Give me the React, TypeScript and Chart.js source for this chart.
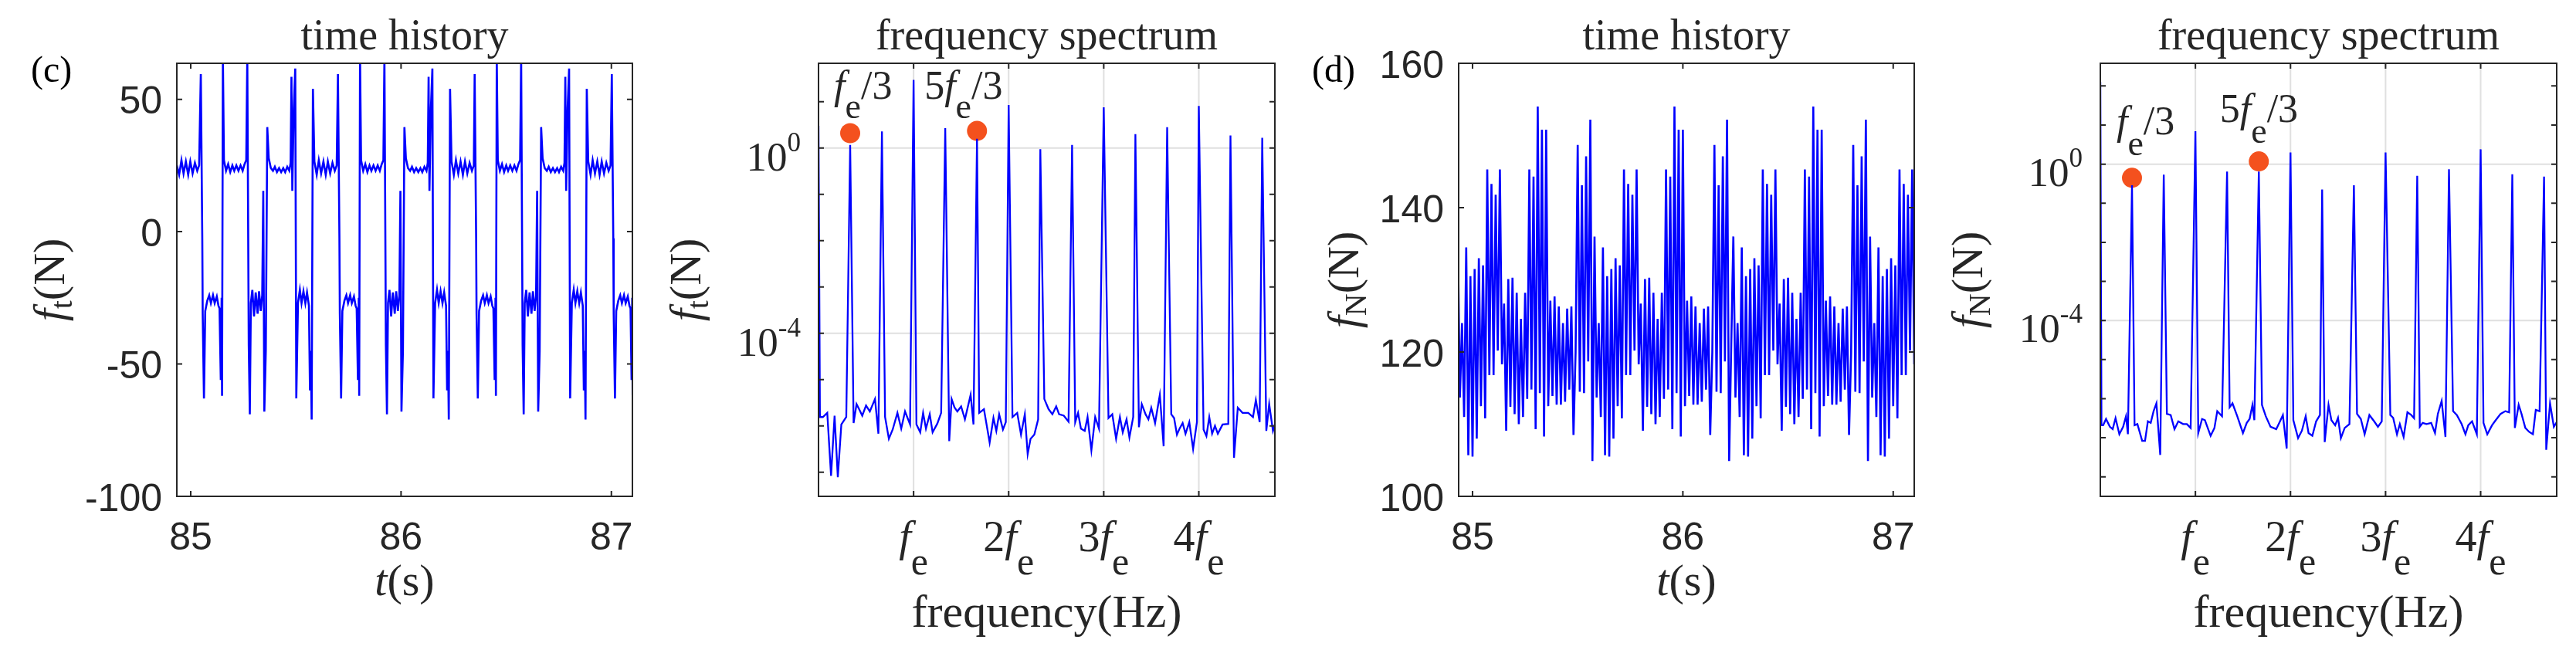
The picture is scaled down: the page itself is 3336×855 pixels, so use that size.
import React, { useEffect, useRef } from 'react';
import { Chart, registerables } from 'chart.js';

Chart.register(...registerables);

const W = 3336;
const H = 855;
const SANS = '"Liberation Sans", Arial, Helvetica, sans-serif';
const SERIF = '"Liberation Serif", "Times New Roman", Times, serif';
const INK = '#262626';
const GRID = '#e0e0e0';
const BLUE = '#0000ff';
const DOT = '#f4511e';

// ---------- (c) tangential force, time history ----------
const timeC = [
  84.934, 84.945, 84.956, 84.966, 84.977, 84.988, 84.998, 85.009, 85.020, 85.031, 85.040,
  85.048, 85.055, 85.057, 85.063, 85.069, 85.079, 85.088, 85.096, 85.106, 85.114,
  85.124, 85.132, 85.137, 85.143, 85.147, 85.149, 85.153, 85.158, 85.168, 85.178,
  85.188, 85.198, 85.207, 85.217, 85.227, 85.237, 85.247, 85.256, 85.264, 85.269,
  85.276, 85.281, 85.286, 85.293, 85.301, 85.309, 85.318, 85.325, 85.333, 85.340,
  85.345, 85.350, 85.357, 85.364, 85.371, 85.381, 85.391, 85.400, 85.410, 85.420,
  85.430, 85.440, 85.449, 85.459, 85.469, 85.475, 85.479, 85.483, 85.490, 85.497,
  85.502, 85.510, 85.519, 85.527, 85.536, 85.545, 85.553, 85.562, 85.567, 85.571,
  85.575, 85.581, 85.588, 85.599, 85.609, 85.620, 85.631, 85.642, 85.652, 85.663,
  85.674, 85.685, 85.694,
  85.700, 85.707, 85.709, 85.715, 85.721, 85.731, 85.740, 85.748, 85.758, 85.766,
  85.776, 85.784, 85.789, 85.795, 85.799, 85.801, 85.805, 85.810, 85.820, 85.830,
  85.840, 85.850, 85.859, 85.869, 85.879, 85.889, 85.899, 85.908, 85.916, 85.921,
  85.928, 85.933, 85.938, 85.945, 85.953, 85.961, 85.970, 85.977, 85.985, 85.992,
  85.997, 86.002, 86.009, 86.016, 86.023, 86.033, 86.043, 86.052, 86.062, 86.072,
  86.082, 86.092, 86.101, 86.111, 86.121, 86.127, 86.131, 86.135, 86.142, 86.149,
  86.154, 86.162, 86.171, 86.179, 86.188, 86.197, 86.205, 86.214, 86.219, 86.223,
  86.227, 86.233, 86.240, 86.251, 86.261, 86.272, 86.283, 86.294, 86.304, 86.315,
  86.326, 86.337, 86.346,
  86.350, 86.357, 86.359, 86.365, 86.371, 86.381, 86.390, 86.398, 86.408, 86.416,
  86.426, 86.434, 86.439, 86.445, 86.449, 86.451, 86.455, 86.460, 86.470, 86.480,
  86.490, 86.500, 86.509, 86.519, 86.529, 86.539, 86.549, 86.558, 86.566, 86.571,
  86.578, 86.583, 86.588, 86.595, 86.603, 86.611, 86.620, 86.627, 86.635, 86.642,
  86.647, 86.652, 86.659, 86.666, 86.673, 86.683, 86.693, 86.702, 86.712, 86.722,
  86.732, 86.742, 86.751, 86.761, 86.771, 86.777, 86.781, 86.785, 86.792, 86.799,
  86.804, 86.812, 86.821, 86.829, 86.838, 86.847, 86.855, 86.864, 86.869, 86.873,
  86.877, 86.883, 86.890, 86.901, 86.911, 86.922, 86.933, 86.944, 86.954, 86.965,
  86.976, 86.987, 86.996,
  87.002, 87.009, 87.011, 87.017, 87.023, 87.033, 87.042, 87.050, 87.060, 87.068,
  87.078, 87.086, 87.091, 87.096, 87.099, 87.101, 87.104, 87.109,
];
const forceC = [
  25, 21.5, 27, 22, 26.5, 21.5, 26.5, 22, 26, 23, 25,
  59.5, -2.5, -31, -63, -30, -26, -24, -27, -24, -27,
  -24.5, -28, -29, -56, -25, -62, 66, 27, 23, 25.5,
  22.5, 25, 23, 25, 23, 25, 23, 25.5, 27, 66,
  -43, -69, -27, -22, -32, -23, -31, -22.5, -30, -24,
  15.4, -68, -45, 39.5, 27.7, 24, 23, 24.5, 22.5, 24,
  22.5, 24, 22.5, 24.5, 23, 26, 58.5, 15.4, 46.7, 61.6,
  -63, -27, -22, -27, -22.5, -27, -23, -28, -60, -45,
  -71, 54, 26.5, 21.5, 27, 22, 26.5, 21.5, 26.5, 22,
  26, 23, 25,
  59.5, -2.5, -31, -63, -30, -26, -24, -27, -24, -27,
  -24.5, -28, -29, -56, -25, -62, 66, 27, 23, 25.5,
  22.5, 25, 23, 25, 23, 25, 23, 25.5, 27, 66,
  -43, -69, -27, -22, -32, -23, -31, -22.5, -30, -24,
  15.4, -68, -45, 39.5, 27.7, 24, 23, 24.5, 22.5, 24,
  22.5, 24, 22.5, 24.5, 23, 26, 58.5, 15.4, 46.7, 61.6,
  -63, -27, -22, -27, -22.5, -27, -23, -28, -60, -45,
  -71, 54, 26.5, 21.5, 27, 22, 26.5, 21.5, 26.5, 22,
  26, 23, 25,
  59.5, -2.5, -31, -63, -30, -26, -24, -27, -24, -27,
  -24.5, -28, -29, -56, -25, -62, 66, 27, 23, 25.5,
  22.5, 25, 23, 25, 23, 25, 23, 25.5, 27, 66,
  -43, -69, -27, -22, -32, -23, -31, -22.5, -30, -24,
  15.4, -68, -45, 39.5, 27.7, 24, 23, 24.5, 22.5, 24,
  22.5, 24, 22.5, 24.5, 23, 26, 58.5, 15.4, 46.7, 61.6,
  -63, -27, -22, -27, -22.5, -27, -23, -28, -60, -45,
  -71, 54, 26.5, 21.5, 27, 22, 26.5, 21.5, 26.5, 22,
  26, 23, 25,
  59.5, -2.5, -31, -63, -30, -26, -24, -27, -24, -27,
  -24.5, -28, -29, -56, -25, -62, 66, 27,
];
const yTicksC = [-100, -50, 0, 50];

// ---------- (d) normal force, time history (sampled every 0.01 s) ----------
const tStartD = 84.93;
const dtD = 0.01;
const forceD = [
  136, 113.7, 124, 111, 134.5, 105.7, 130.5, 105.5, 131.5, 108,
  133, 112.5, 132, 110.8, 145.3, 116.8, 143.3, 116.8, 141.8, 120.2,
  145.3, 118.3, 126.7, 109.1, 130.1, 112.4, 130.3, 111.4, 128.2, 110,
  124.6, 111, 128.2, 113.5, 145.3, 114.8, 144.3, 109.3, 154, 114.3,
  150.8, 108.3, 150.8, 112.5, 127.1, 113.9, 127.7, 112.7, 126.3, 112.7,
  124, 113.1, 126, 114.8, 126.3, 108.5, 120, 148.7, 114.5, 143.1,
  114.3, 147.1, 118.7, 152.2, 104.9,
  136, 113.7, 124, 111, 134.5, 105.7, 130.5, 105.5, 131.5, 108,
  133, 112.5, 132, 110.8, 145.3, 116.8, 143.3, 116.8, 141.8, 120.2,
  145.3, 118.3, 126.7, 109.1, 130.1, 112.4, 130.3, 111.4, 128.2, 110,
  124.6, 111, 128.2, 113.5, 145.3, 114.8, 144.3, 109.3, 154, 114.3,
  150.8, 108.3, 150.8, 112.5, 127.1, 113.9, 127.7, 112.7, 126.3, 112.7,
  124, 113.1, 126, 114.8, 126.3, 108.5, 120, 148.7, 114.5, 143.1,
  114.3, 147.1, 118.7, 152.2, 104.9, 121,
  136, 113.7, 124, 111, 134.5, 105.7, 130.5, 105.5, 131.5, 108,
  133, 112.5, 132, 110.8, 145.3, 116.8, 143.3, 116.8, 141.8, 120.2,
  145.3, 118.3, 126.7, 109.1, 130.1, 112.4, 130.3, 111.4, 128.2, 110,
  124.6, 111, 128.2, 113.5, 145.3, 114.8, 144.3, 109.3, 154, 114.3,
  150.8, 108.3, 150.8, 112.5, 127.1, 113.9, 127.7, 112.7, 126.3, 112.7,
  124, 113.1, 126, 114.8, 126.3, 108.5, 120, 148.7, 114.5, 143.1,
  114.3, 147.1, 118.7, 152.2, 104.9,
  136, 113.7, 124, 111, 134.5, 105.7, 130.5, 105.5, 131.5, 108,
  133, 112.5, 132, 110.8, 145.3, 116.8, 143.3, 116.8, 141.8, 120.2,
  145.3, 118.3,
];
const yTicksD = [100, 120, 140, 160];
const timeTicks = [85, 86, 87];

// ---------- spectra (frequency in multiples of fe, amplitude as log10) ----------
const freqT = [
  0, 0.015, 0.046, 0.092, 0.132, 0.169, 0.203, 0.24, 0.292, 0.333,
  0.369, 0.4, 0.43, 0.46, 0.5, 0.54, 0.594, 0.63, 0.667, 0.7,
  0.74, 0.78, 0.83, 0.87, 0.91, 0.963, 1.0, 1.03, 1.07, 1.1,
  1.13, 1.17, 1.2, 1.25, 1.29, 1.333, 1.375, 1.4, 1.43, 1.46,
  1.5, 1.54, 1.6, 1.63, 1.667, 1.69, 1.74, 1.8, 1.84, 1.87,
  1.9, 1.94, 1.97, 2.0, 2.04, 2.09, 2.13, 2.17, 2.2, 2.23,
  2.27, 2.31, 2.333, 2.375, 2.42, 2.46, 2.5, 2.53, 2.58, 2.63,
  2.667, 2.7, 2.73, 2.76, 2.8, 2.83, 2.87, 2.91, 2.95, 3.0,
  3.05, 3.09, 3.13, 3.17, 3.2, 3.24, 3.27, 3.31, 3.333, 3.37,
  3.4, 3.44, 3.47, 3.5, 3.54, 3.59, 3.63, 3.667, 3.71, 3.74,
  3.77, 3.8, 3.83, 3.86, 3.9, 3.94, 3.98, 4.0, 4.05, 4.08,
  4.11, 4.14, 4.17, 4.2, 4.25, 4.31, 4.333, 4.37, 4.41, 4.46,
  4.52, 4.57, 4.6, 4.64, 4.667, 4.71, 4.74, 4.78, 4.81,
];
const logAmpT = [
  0.48, -5.81, -5.81, -5.72, -7.08, -5.78, -7.11, -5.97, -5.81, 0.067,
  -5.94, -5.53, -5.65, -5.78, -5.56, -5.69, -5.42, -6.17, 0.357, -5.81,
  -6.28, -6.08, -5.72, -6.06, -5.69, -5.97, 1.47, -5.97, -6.14, -5.72,
  -6.06, -5.75, -6.14, -5.95, -5.72, 0.43, -6.33, -5.42, -5.6, -5.69,
  -5.58, -5.86, -5.33, -5.97, 0.2, -5.72, -5.64, -6.36, -5.83, -6.11,
  -5.75, -6.08, -5.92, 0.93, -5.81, -5.72, -6.19, -5.75, -6.61, -6.28,
  -6.19, -5.86, -0.025, -5.42, -5.64, -5.75, -5.58, -5.75, -5.78, -5.91,
  0.067, -5.92, -5.72, -6.06, -6.11, -5.81, -6.53, -5.81, -6.06, 0.88,
  -5.83, -5.75, -6.28, -5.81, -6.14, -5.86, -6.25, -5.81, 0.3, -6.03,
  -5.53, -5.75, -5.86, -5.61, -5.94, -5.33, -6.44, 0.45, -5.75, -5.83,
  -6.19, -6.05, -5.94, -6.17, -5.92, -6.5, -5.92, 0.91, -6.08, -6.22,
  -5.81, -6.17, -6.0, -6.17, -5.97, -5.96, 0.27, -6.69, -5.61, -5.72,
  -5.72, -5.81, -5.44, -5.92, 0.22, -6.11, -5.53, -6.11, -5.9,
];
const freqN = [
  0, 0.012, 0.03, 0.06, 0.1, 0.13, 0.16, 0.2, 0.24, 0.27,
  0.29, 0.333, 0.36, 0.39, 0.44, 0.47, 0.5, 0.53, 0.56, 0.59,
  0.63, 0.667, 0.7, 0.74, 0.78, 0.82, 0.87, 0.91, 0.95, 1.0,
  1.03, 1.07, 1.1, 1.16, 1.2, 1.23, 1.28, 1.333, 1.36, 1.39,
  1.44, 1.5, 1.54, 1.57, 1.6, 1.62, 1.667, 1.7, 1.74, 1.79,
  1.85, 1.89, 1.92, 1.96, 2.0, 2.03, 2.08, 2.12, 2.16, 2.19,
  2.23, 2.27, 2.31, 2.333, 2.36, 2.4, 2.43, 2.47, 2.5, 2.53,
  2.57, 2.62, 2.667, 2.7, 2.74, 2.78, 2.83, 2.88, 2.92, 2.96,
  3.0, 3.05, 3.08, 3.12, 3.15, 3.19, 3.23, 3.27, 3.3, 3.333,
  3.36, 3.39, 3.43, 3.48, 3.52, 3.55, 3.59, 3.63, 3.667, 3.71,
  3.75, 3.8, 3.84, 3.87, 3.91, 3.96, 4.0, 4.03, 4.07, 4.12,
  4.15, 4.21, 4.26, 4.3, 4.333, 4.36, 4.4, 4.43, 4.47, 4.51,
  4.55, 4.58, 4.62, 4.667, 4.69, 4.73, 4.77, 4.8,
];
const logAmpN = [
  2.1, -6.68, -6.68, -6.52, -6.72, -6.78, -6.5, -6.91, -6.72, -6.45,
  -6.91, -0.54, -6.68, -6.65, -7.08, -7.08, -6.58, -6.62, -6.32, -6.12,
  -7.44, -0.27, -6.39, -6.42, -6.78, -6.58, -6.65, -6.65, -6.75, 0.84,
  -6.88, -6.52, -6.55, -6.95, -6.75, -6.32, -6.45, -0.19, -6.22, -6.12,
  -6.45, -6.88, -6.62, -6.52, -6.16, -6.55, -0.19, -6.16, -6.45, -6.72,
  -6.78, -6.58, -6.42, -7.28, 0.3, -6.55, -7.01, -6.82, -6.45, -6.88,
  -6.95, -6.58, -6.42, -0.65, -7.11, -6.16, -6.55, -6.68, -6.49, -7.01,
  -6.75, -6.65, -0.54, -6.39, -6.52, -6.91, -6.42, -6.58, -6.72, -6.58,
  0.3, -6.42, -6.49, -6.91, -6.65, -6.98, -6.35, -6.42, -6.5, -0.3,
  -6.72, -6.62, -6.65, -6.62, -6.88, -6.39, -6.06, -6.98, -0.13, -6.32,
  -6.42, -6.65, -6.91, -6.68, -6.58, -6.91, 0.38, -6.62, -6.91, -6.68,
  -6.58, -6.39, -6.32, -6.35, -0.26, -6.75, -6.16, -6.39, -6.75, -6.85,
  -6.91, -6.29, -6.32, -0.32, -7.31, -6.12, -6.72, -6.6,
];
const harmonicTicks = [1, 2, 3, 4];
const harmonicPrefix = ['', '2', '3', '4'];
const logTicksT = [-7, -6, -5, -4, -3, -2, -1, 0, 1];
const logTicksN = [-8, -7, -6, -5, -4, -3, -2, -1, 0, 1, 2];
const logLabelled = [0, -4];
const markX = [0.333, 1.667];
const markYT = [2.09, 2.34];
const markYN = [0.447, 1.175];
const markPrefix = ['', '5'];
const markTextXT = [0.163, 1.114];
const markTextYT = [11.6, 11.6];
const markTextXN = [0.17, 1.257];
const markTextYN = [5.75, 11.9];

type Box = { l: number; t: number; r: number; b: number };
type Seg = { s: string; f: string; dy?: number };

const boxC: Box = { l: 229, t: 82, r: 819, b: 643 };
const boxT: Box = { l: 1060, t: 82, r: 1651, b: 643 };
const boxD: Box = { l: 1889, t: 82, r: 2479, b: 643 };
const boxN: Box = { l: 2720, t: 82, r: 3311, b: 643 };

const it = (px: number) => `italic ${px}px ${SERIF}`;
const rm = (px: number) => `${px}px ${SERIF}`;

function drawSegs(ctx: CanvasRenderingContext2D, segs: Seg[], x: number, y: number, align: 'left' | 'center' | 'right') {
  let w = 0;
  segs.forEach((g) => {
    ctx.font = g.f;
    w += ctx.measureText(g.s).width;
  });
  let cx = align === 'center' ? x - w / 2 : align === 'right' ? x - w : x;
  ctx.textAlign = 'left';
  ctx.textBaseline = 'alphabetic';
  segs.forEach((g) => {
    ctx.font = g.f;
    ctx.fillText(g.s, cx, y + (g.dy || 0));
    cx += ctx.measureText(g.s).width;
  });
}

function drawVertical(ctx: CanvasRenderingContext2D, segs: Seg[], x: number, y: number) {
  ctx.save();
  ctx.translate(x, y);
  ctx.rotate(-Math.PI / 2);
  drawSegs(ctx, segs, 0, 0, 'center');
  ctx.restore();
}

type Frame = {
  xTicks: number[];
  yTicks: number[];
  xGrid?: number[];
  yGrid?: number[];
  text: (ctx: CanvasRenderingContext2D, px: (v: number) => number, py: (v: number) => number) => void;
};

function makeFrame(spec: Frame) {
  return {
    id: 'frame',
    beforeDatasetsDraw(chart: any) {
      const { ctx, chartArea: a } = chart;
      const xs = chart.scales.x;
      const ys = chart.scales.y;
      ctx.save();
      ctx.strokeStyle = GRID;
      ctx.lineWidth = 2;
      ctx.beginPath();
      (spec.xGrid || []).forEach((v) => {
        const p = xs.getPixelForValue(v);
        ctx.moveTo(p, a.top);
        ctx.lineTo(p, a.bottom);
      });
      (spec.yGrid || []).forEach((v) => {
        const p = ys.getPixelForValue(v);
        ctx.moveTo(a.left, p);
        ctx.lineTo(a.right, p);
      });
      ctx.stroke();
      ctx.restore();
    },
    afterDraw(chart: any) {
      const { ctx, chartArea: a } = chart;
      const xs = chart.scales.x;
      const ys = chart.scales.y;
      const tl = 7;
      ctx.save();
      ctx.strokeStyle = INK;
      ctx.lineWidth = 2;
      ctx.strokeRect(a.left, a.top, a.right - a.left, a.bottom - a.top);
      ctx.beginPath();
      spec.xTicks.forEach((v) => {
        const p = xs.getPixelForValue(v);
        ctx.moveTo(p, a.bottom);
        ctx.lineTo(p, a.bottom - tl);
        ctx.moveTo(p, a.top);
        ctx.lineTo(p, a.top + tl);
      });
      spec.yTicks.forEach((v) => {
        const p = ys.getPixelForValue(v);
        ctx.moveTo(a.left, p);
        ctx.lineTo(a.left + tl, p);
        ctx.moveTo(a.right, p);
        ctx.lineTo(a.right - tl, p);
      });
      ctx.stroke();
      ctx.fillStyle = INK;
      spec.text(ctx, (v) => xs.getPixelForValue(v), (v) => ys.getPixelForValue(v));
      ctx.restore();
    },
  };
}

function baseOptions(box: Box, x: any, y: any) {
  return {
    animation: false as const,
    responsive: false,
    devicePixelRatio: 1,
    events: [] as any[],
    layout: { padding: { left: box.l, top: box.t, right: W - box.r, bottom: H - box.b } },
    plugins: { legend: { display: false }, tooltip: { enabled: false } },
    scales: { x: { ...x, display: false }, y: { ...y, display: false } },
  };
}

function timeConfig(box: Box, pts: { x: number; y: number }[], yMin: number, yMax: number, yTicks: number[], letter: string, sub: string) {
  const frame = makeFrame({
    xTicks: timeTicks,
    yTicks,
    text: (ctx, px, py) => {
      ctx.font = `50px ${SANS}`;
      ctx.textBaseline = 'alphabetic';
      ctx.textAlign = 'right';
      yTicks.forEach((v) => ctx.fillText(String(v), box.l - 19, py(v) + 18.5));
      ctx.textAlign = 'center';
      timeTicks.forEach((v) => ctx.fillText(String(v), px(v), box.b + 69));
      const cx = (box.l + box.r) / 2;
      drawSegs(ctx, [{ s: 't', f: it(58) }, { s: '(s)', f: rm(58) }], cx, 771, 'center');
      drawSegs(ctx, [{ s: 'time history', f: rm(56) }], cx, 64, 'center');
      drawVertical(ctx, [{ s: 'f', f: it(58) }, { s: sub, f: rm(40), dy: 10 }, { s: '(N)', f: rm(58) }], box.l - (box.l === boxC.l ? 146 : 130), (box.t + box.b) / 2);
      ctx.fillStyle = '#000';
      drawSegs(ctx, [{ s: letter, f: rm(48) }], box.l === boxC.l ? 40 : 1699, 106, 'left');
    },
  });
  return {
    type: 'line' as const,
    data: {
      datasets: [{ data: pts, borderColor: BLUE, borderWidth: 2.6, pointRadius: 0, tension: 0, clip: 0 }],
    },
    options: baseOptions(box, { type: 'linear', min: 84.934, max: 87.1 }, { type: 'linear', min: yMin, max: yMax }),
    plugins: [frame],
  };
}

function specConfig(box: Box, freq: number[], logAmp: number[], logMin: number, logMax: number, logTicks: number[], markY: number[], textX: number[], textY: number[], sub: string, supDy: number, subDy: number) {
  const frame = makeFrame({
    xTicks: harmonicTicks,
    yTicks: logTicks.map((e) => 10 ** e),
    xGrid: harmonicTicks,
    yGrid: logLabelled.map((e) => 10 ** e),
    text: (ctx, px, py) => {
      logLabelled.forEach((e) => {
        drawSegs(ctx, [{ s: '10', f: rm(53) }, { s: String(e), f: rm(35), dy: -25 }], box.l - 23, py(10 ** e) + supDy, 'right');
      });
      harmonicTicks.forEach((h, i) => {
        const segs: Seg[] = [];
        if (harmonicPrefix[i]) segs.push({ s: harmonicPrefix[i], f: rm(56) });
        segs.push({ s: 'f', f: it(56) }, { s: 'e', f: rm(50), dy: 30 });
        drawSegs(ctx, segs, px(h), box.b + 71, 'center');
      });
      const cx = (box.l + box.r) / 2;
      drawSegs(ctx, [{ s: 'frequency(Hz)', f: rm(60) }], cx, 812, 'center');
      drawSegs(ctx, [{ s: 'frequency spectrum', f: rm(56) }], cx, 64, 'center');
      drawVertical(ctx, [{ s: 'f', f: it(58) }, { s: sub, f: rm(40), dy: 10 }, { s: '(N)', f: rm(58) }], box.l - 153, (box.t + box.b) / 2);
      markPrefix.forEach((p, i) => {
        const segs: Seg[] = [];
        if (p) segs.push({ s: p, f: rm(52) });
        segs.push({ s: 'f', f: it(52) }, { s: 'e', f: rm(46), dy: subDy }, { s: '/3', f: rm(52) });
        drawSegs(ctx, segs, px(textX[i]), py(textY[i]), 'left');
      });
    },
  });
  return {
    type: 'line' as const,
    data: {
      datasets: [
        {
          data: freq.map((f, i) => ({ x: f, y: 10 ** logAmp[i] })),
          borderColor: BLUE,
          borderWidth: 2.3,
          pointRadius: 0,
          tension: 0,
          clip: 0,
        },
        {
          data: markX.map((f, i) => ({ x: f, y: markY[i] })),
          showLine: false,
          pointRadius: 13,
          pointBackgroundColor: DOT,
          pointBorderColor: DOT,
          pointBorderWidth: 0,
          clip: false as const,
        },
      ],
    },
    options: baseOptions(box, { type: 'linear', min: 0, max: 4.8 }, { type: 'logarithmic', min: 10 ** logMin, max: 10 ** logMax }),
    plugins: [frame],
  };
}

function Panel({ make }: { make: () => any }) {
  const ref = useRef<HTMLCanvasElement | null>(null);
  useEffect(() => {
    if (!ref.current) return;
    const chart = new Chart(ref.current, make());
    return () => chart.destroy();
  }, [make]);
  return <canvas ref={ref} width={W} height={H} style={{ position: 'absolute', left: 0, top: 0 }} />;
}

const makeC = () =>
  timeConfig(boxC, timeC.map((t, i) => ({ x: t, y: forceC[i] })), -100, 63.6, yTicksC, '(c)', 't');
const makeT = () =>
  specConfig(boxT, freqT, logAmpT, -7.5, 1.83, logTicksT, markYT, markTextXT, markTextYT, 't', 29, 25);
const makeD = () =>
  timeConfig(boxD, forceD.map((v, i) => ({ x: tStartD + i * dtD, y: v })), 100, 160, yTicksD, '(d)', 'N');
const makeN = () =>
  specConfig(boxN, freqN, logAmpN, -8.5, 2.58, logTicksN, markYN, markTextXN, markTextYN, 'N', 28, 27);

export default function App() {
  return (
    <div style={{ position: 'absolute', left: 0, top: 0, width: W, height: H, background: '#fff' }}>
      <Panel make={makeC} />
      <Panel make={makeT} />
      <Panel make={makeD} />
      <Panel make={makeN} />
    </div>
  );
}
